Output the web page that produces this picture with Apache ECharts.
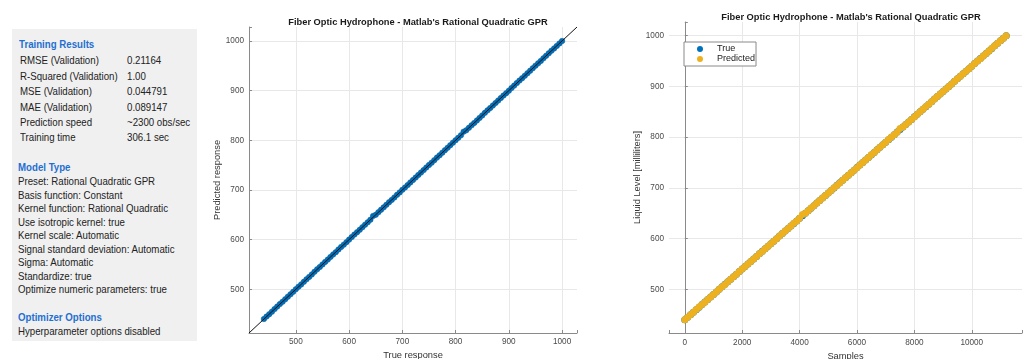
<!DOCTYPE html>
<html>
<head>
<meta charset="utf-8">
<script src="https://cdn.jsdelivr.net/npm/echarts@6/dist/echarts.min.js"></script>
<style>
  html, body { margin: 0; padding: 0; background: #ffffff; }
  #wrap { position: relative; width: 1025px; height: 359px; overflow: hidden; }
  #chart { position: absolute; left: 0; top: 0; width: 1025px; height: 359px; }
  #panel { position: absolute; left: 12px; top: 29px; width: 185px; height: 312px; background: #f0f0f0;
           font-family: "Liberation Sans", Arial, sans-serif; font-size: 11.8px; color: #222; }
  #panel div { position: absolute; white-space: nowrap; line-height: 14px; transform: scaleX(0.82); transform-origin: 0 50%; }
  #panel .h { color: #1f6fd1; font-weight: bold; }
</style>
</head>
<body>
<div id="wrap">
  <div id="chart"></div>
  <div id="panel"></div>
</div>
<script>
// ---------- data ----------
const chartTitle = "Fiber Optic Hydrophone - Matlab's Rational Quadratic GPR";

// sample index (sorted by response)
const samples = [0, 100, 200, 300, 400, 500, 600, 700, 800, 900,
  1000, 1100, 1200, 1300, 1400, 1500, 1600, 1700, 1800, 1900,
  2000, 2100, 2200, 2300, 2400, 2500, 2600, 2700, 2800, 2900,
  3000, 3100, 3200, 3300, 3400, 3500, 3600, 3700, 3800, 3900,
  4000, 4100, 4200, 4300, 4400, 4500, 4600, 4700, 4800, 4900,
  5000, 5100, 5200, 5300, 5400, 5500, 5600, 5700, 5800, 5900,
  6000, 6100, 6200, 6300, 6400, 6500, 6600, 6700, 6800, 6900,
  7000, 7100, 7200, 7300, 7400, 7500, 7600, 7700, 7800, 7900,
  8000, 8100, 8200, 8300, 8400, 8500, 8600, 8700, 8800, 8900,
  9000, 9100, 9200, 9300, 9400, 9500, 9600, 9700, 9800, 9900,
  10000, 10100, 10200, 10300, 10400, 10500, 10600, 10700, 10800, 10900,
  11000, 11100, 11200];

// true response (liquid level, ml)
const trueVals = [440, 445, 450, 455, 460, 465, 470, 475, 480, 485,
  490, 495, 500, 505, 510, 515, 520, 525, 530, 535,
  540, 545, 550, 555, 560, 565, 570, 575, 580, 585,
  590, 595, 600, 605, 610, 615, 620, 625, 630, 635,
  640, 645, 650, 655, 660, 665, 670, 675, 680, 685,
  690, 695, 700, 705, 710, 715, 720, 725, 730, 735,
  740, 745, 750, 755, 760, 765, 770, 775, 780, 785,
  790, 795, 800, 805, 810, 815, 820, 825, 830, 835,
  840, 845, 850, 855, 860, 865, 870, 875, 880, 885,
  890, 895, 900, 905, 910, 915, 920, 925, 930, 935,
  940, 945, 950, 955, 960, 965, 970, 975, 980, 985,
  990, 995, 1000];

// predicted response
const predVals = [440.2, 445.1, 449.8, 454.9, 460.1, 465.2, 470.3, 474.8, 479.9, 485.1,
  490.0, 494.8, 500.2, 505.1, 509.8, 515.0, 520.1, 524.9, 529.9, 535.2,
  540.2, 544.9, 550.0, 555.1, 559.8, 565.0, 570.1, 574.8, 580.2, 585.1,
  589.9, 594.9, 600.0, 605.2, 610.2, 614.9, 619.8, 625.0, 630.1, 634.8,
  640.0, 647.6, 649.8, 655.1, 660.2, 664.9, 670.0, 675.2, 679.9, 684.8,
  690.1, 695.0, 700.2, 704.9, 709.8, 715.1, 720.0, 724.9, 730.1, 735.0,
  739.9, 745.2, 750.2, 754.8, 760.0, 765.1, 769.8, 775.0, 780.1, 784.9,
  790.0, 795.2, 800.2, 804.9, 809.9, 817.2, 820.0, 825.1, 830.1, 834.8,
  839.8, 845.0, 850.0, 855.2, 860.2, 864.9, 869.9, 875.0, 880.0, 885.1,
  890.1, 894.8, 899.8, 905.0, 910.0, 915.2, 920.2, 924.9, 929.9, 935.0,
  940.0, 945.1, 950.1, 954.8, 959.8, 965.0, 970.0, 975.1, 980.2, 984.9,
  989.9, 995.0, 999.8];

// axis limits
const respLimits = [412, 1028];
const levelLimits = [414, 1027];
const sampleLimits = [-550, 11750];

// training summary text
const resultsRows = [
  ["RMSE (Validation)", "0.21164"],
  ["R-Squared (Validation)", "1.00"],
  ["MSE (Validation)", "0.044791"],
  ["MAE (Validation)", "0.089147"],
  ["Prediction speed", "~2300 obs/sec"],
  ["Training time", "306.1 sec"]
];
const modelLines = [
  "Preset: Rational Quadratic GPR",
  "Basis function: Constant",
  "Kernel function: Rational Quadratic",
  "Use isotropic kernel: true",
  "Kernel scale: Automatic",
  "Signal standard deviation: Automatic",
  "Sigma: Automatic",
  "Standardize: true",
  "Optimize numeric parameters: true"
];
const optimizerLines = ["Hyperparameter options disabled"];

// ---------- left panel ----------
(function () {
  const panel = document.getElementById('panel');
  const px = 12, py = 29;
  function add(text, x, yCenter, cls) {
    const d = document.createElement('div');
    d.textContent = text;
    d.style.left = (x - px) + 'px';
    d.style.top = (yCenter - 7 - py) + 'px';
    if (cls) d.className = cls;
    panel.appendChild(d);
  }
  add('Training Results', 18.5, 44.3, 'h');
  const rowY = [60.3, 75.6, 91, 106.5, 121.8, 137.3];
  resultsRows.forEach((r, i) => { add(r[0], 20, rowY[i]); add(r[1], 127, rowY[i]); });
  add('Model Type', 18, 166.7, 'h');
  modelLines.forEach((t, i) => add(t, 17.7, 181.3 + i * 13.5));
  add('Optimizer Options', 18, 316.7, 'h');
  optimizerLines.forEach((t, i) => add(t, 17.7, 330.7 + i * 13.5));
})();

// ---------- chart ----------
const chart = echarts.init(document.getElementById('chart'), null, { renderer: 'canvas' });
const FONT = '"Liberation Sans", Arial, sans-serif';
const axisColor = '#8a8a8a';
const labelColor = '#4a4a4a';
const gridColor = '#e8e8e8';

function mkAxis(opts) {
  return Object.assign({
    type: 'value',
    splitNumber: 6,
    nameLocation: 'middle',
    nameTextStyle: { fontFamily: FONT, fontSize: 9.3, color: '#333' },
    axisLine: { show: true, lineStyle: { color: axisColor, width: 1 } },
    axisTick: { show: true, inside: true, length: 3, lineStyle: { color: axisColor } },
    splitLine: { show: true, showMinLine: false, showMaxLine: false, lineStyle: { color: gridColor, width: 1 } }
  }, opts);
}

const fmt100 = v => (Math.abs(v % 100) < 1e-6 ? String(v) : '');
const fmt2000 = v => (Math.abs(v % 2000) < 1e-6 ? String(v) : '');
const lbl = (margin, f) => ({ fontFamily: FONT, fontSize: 8.2, color: labelColor, margin: margin, formatter: f });

const option = {
  animation: false,
  backgroundColor: '#ffffff',
  title: [
    { text: chartTitle, left: 413, top: 13, textAlign: 'center',
      textStyle: { fontFamily: FONT, fontSize: 9.3, fontWeight: 'bold', color: '#1a1a1a' } },
    { text: chartTitle, left: 846, top: 8, textAlign: 'center',
      textStyle: { fontFamily: FONT, fontSize: 9.3, fontWeight: 'bold', color: '#1a1a1a' } }
  ],
  legend: {
    data: ['True', 'Predicted'],
    orient: 'vertical',
    left: 684, top: 42,
    padding: [2, 1, 2, 13],
    itemGap: 0,
    itemWidth: 24, itemHeight: 6,
    icon: 'circle',
    borderColor: '#8a8a8a', borderWidth: 1,
    backgroundColor: '#ffffff',
    textStyle: { fontFamily: FONT, fontSize: 9, color: '#222', lineHeight: 10 }
  },
  grid: [
    { left: 249, top: 27, width: 328, height: 306, containLabel: false, outerBoundsMode: 'none' },
    { left: 669, top: 22, width: 353, height: 311, containLabel: false, outerBoundsMode: 'none' }
  ],
  xAxis: [
    mkAxis({ gridIndex: 0, min: respLimits[0], max: respLimits[1], name: 'True response', nameGap: 15,
      axisLabel: lbl(5, fmt100) }),
    mkAxis({ gridIndex: 1, min: sampleLimits[0], max: sampleLimits[1], name: 'Samples', nameGap: 18,
      axisLabel: lbl(6, fmt2000) })
  ],
  yAxis: [
    mkAxis({ gridIndex: 0, min: respLimits[0], max: respLimits[1], name: 'Predicted response', nameGap: 26,
      axisLabel: lbl(5, fmt100) }),
    mkAxis({ gridIndex: 1, min: levelLimits[0], max: levelLimits[1], name: 'Liquid Level [milliliters]', nameGap: 26,
      axisLabel: lbl(5, fmt100) })
  ],
  series: [
    {
      name: 'Observations', type: 'scatter', xAxisIndex: 0, yAxisIndex: 0,
      symbol: 'circle', symbolSize: 5.5, z: 2,
      itemStyle: { color: '#0072BD', borderColor: '#0b5690', borderWidth: 0.5, opacity: 1 },
      data: trueVals.map((t, i) => [t, predVals[i]]),
      silent: true
    },
    {
      name: 'Perfect prediction', type: 'line', xAxisIndex: 0, yAxisIndex: 0,
      showSymbol: false, symbol: 'none', z: 3, silent: true,
      lineStyle: { color: '#111', width: 1 },
      data: [[respLimits[0], respLimits[0]], [respLimits[1], respLimits[1]]]
    },
    {
      name: 'True', type: 'scatter', xAxisIndex: 1, yAxisIndex: 1,
      symbol: 'circle', symbolSize: 7, z: 2,
      itemStyle: { color: '#0072BD', opacity: 1 },
      data: samples.map((s, i) => [s, trueVals[i]]),
      silent: true
    },
    {
      name: 'Predicted', type: 'scatter', xAxisIndex: 1, yAxisIndex: 1,
      symbol: 'circle', symbolSize: 7, z: 3,
      itemStyle: { color: '#EDB120', opacity: 1 },
      data: samples.map((s, i) => [s, predVals[i]]),
      silent: true
    }
  ]
};
chart.setOption(option);
</script>
</body>
</html>
